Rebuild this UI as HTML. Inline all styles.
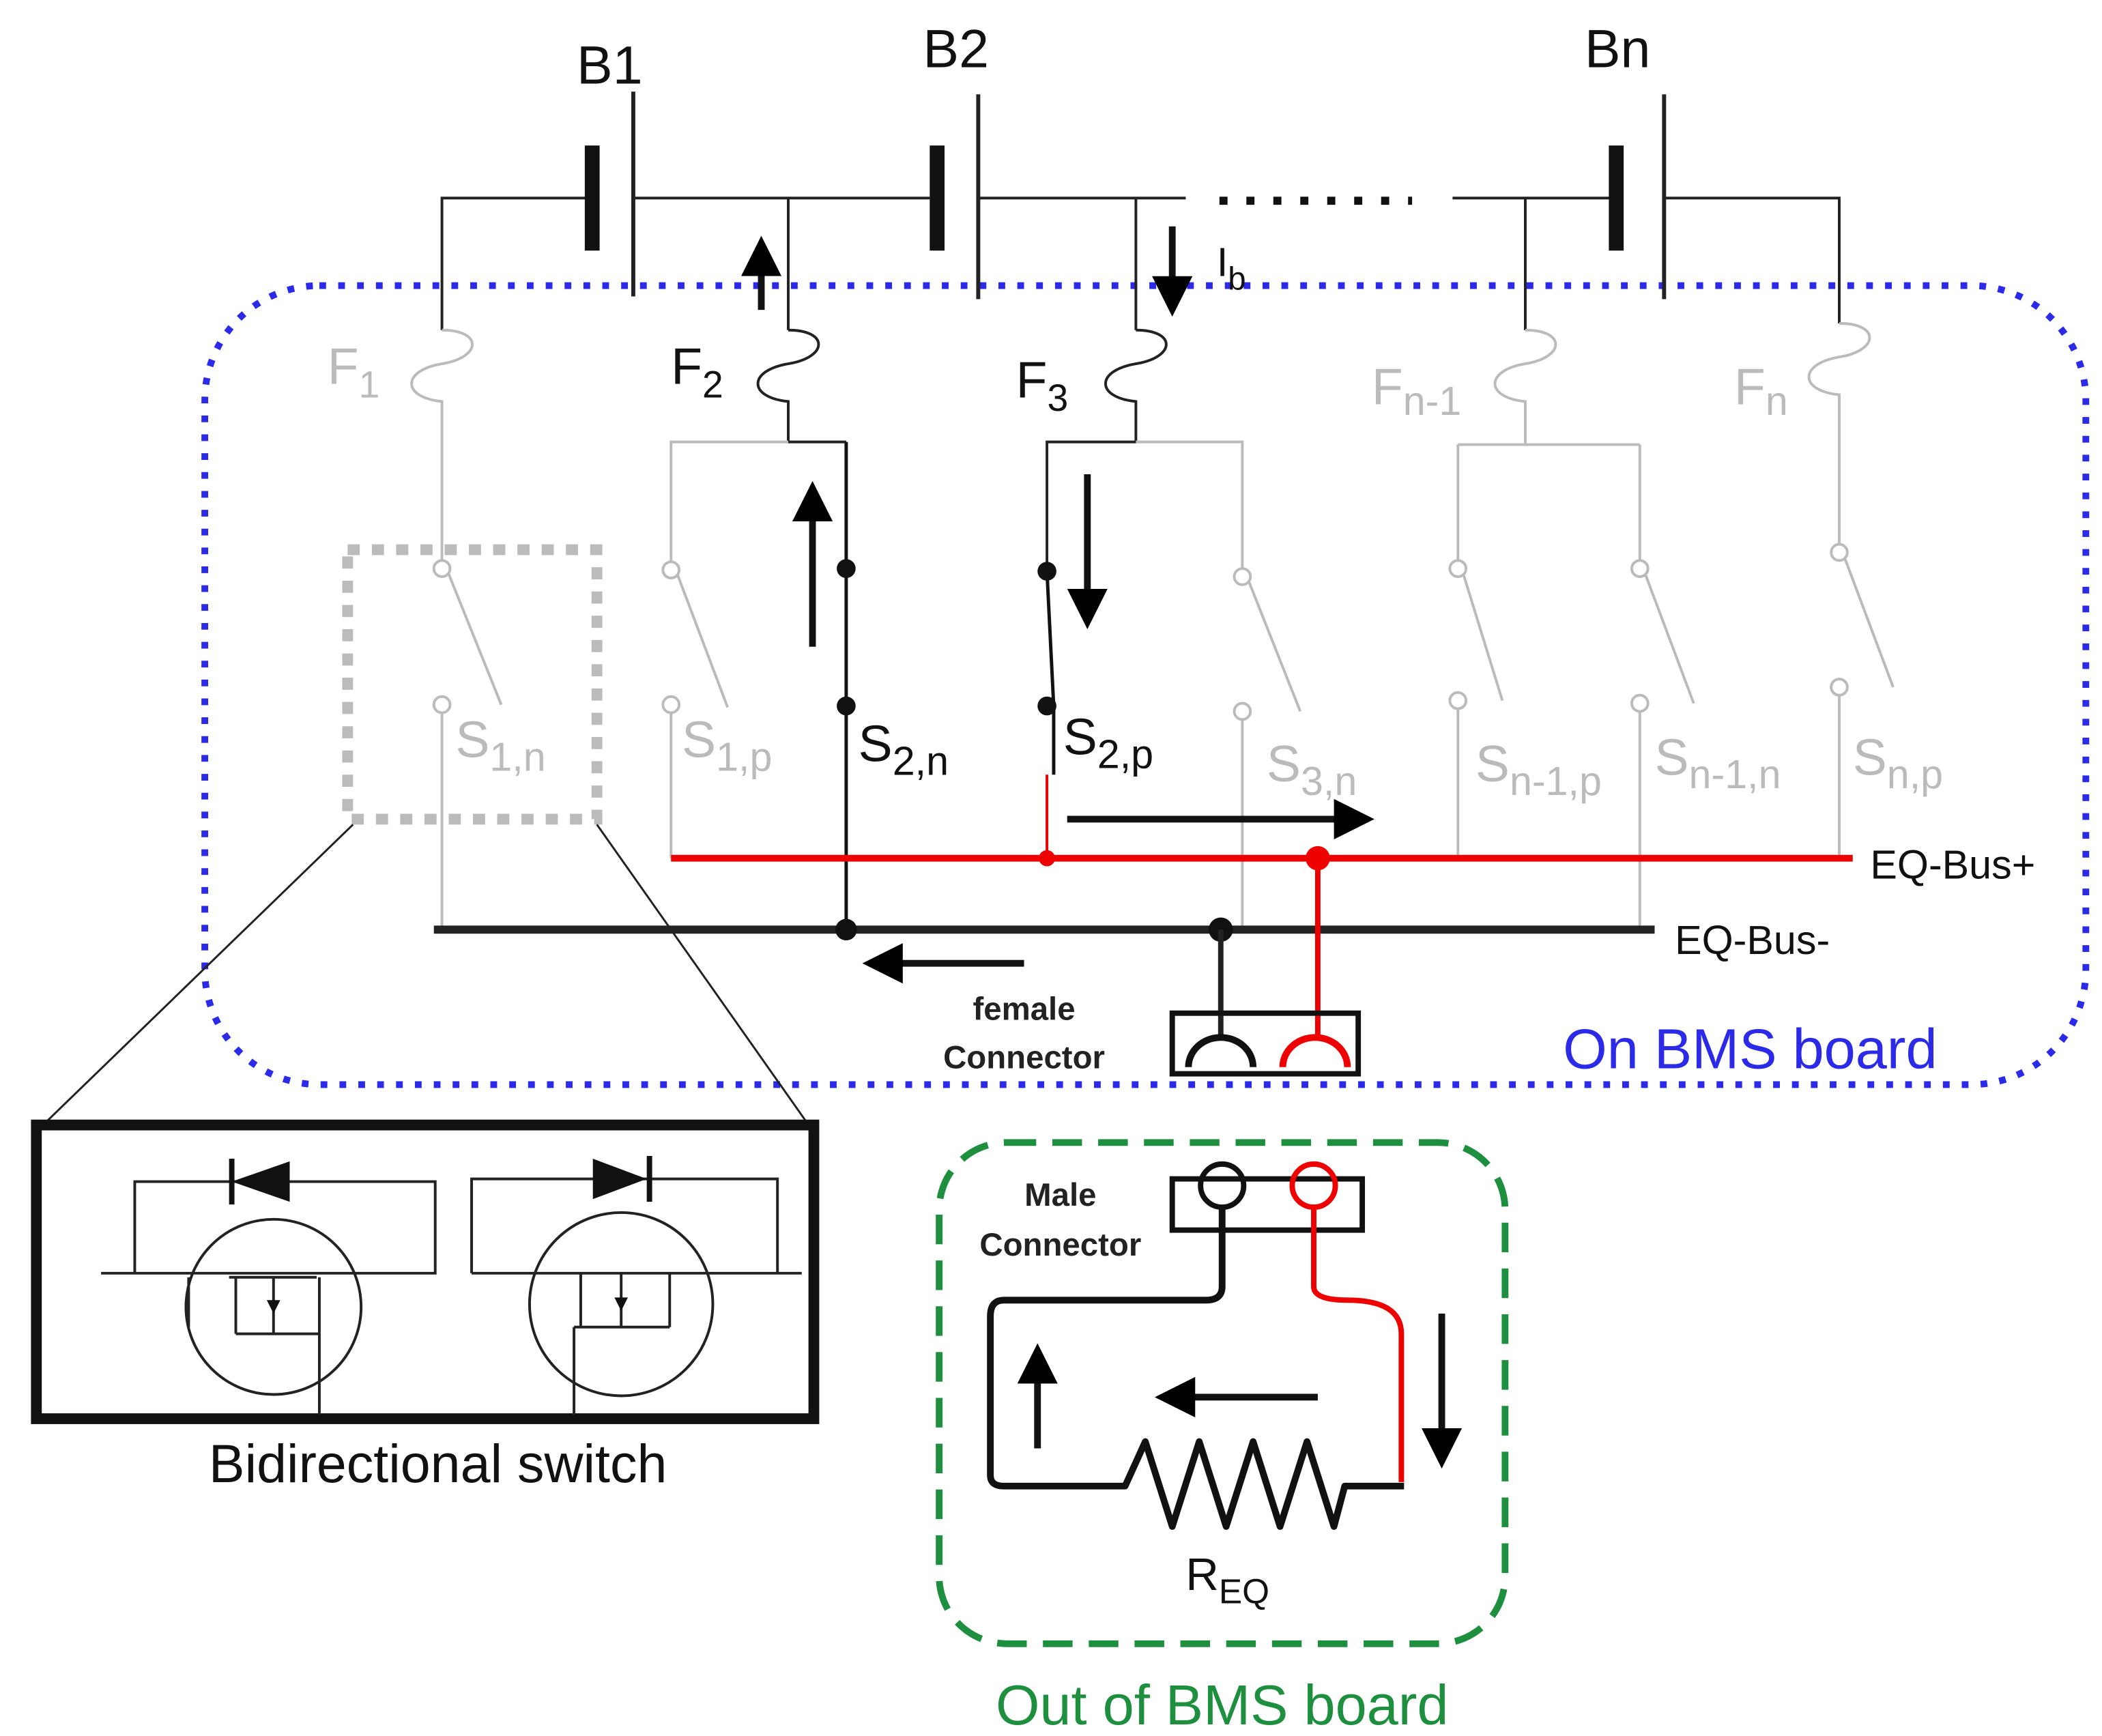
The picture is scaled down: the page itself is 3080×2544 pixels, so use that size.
<!DOCTYPE html>
<html><head><meta charset="utf-8"><style>html,body{margin:0;padding:0;background:#fff}svg{display:block}</style></head><body>
<svg width="3080" height="2544" viewBox="0 0 1560 1288.5" preserveAspectRatio="none" xmlns="http://www.w3.org/2000/svg" font-family="Liberation Sans, sans-serif">
<defs>
<marker id="ah" markerWidth="6" markerHeight="6" refX="5" refY="3" orient="auto" markerUnits="strokeWidth"><path d="M0,0 L6,3 L0,6 z" fill="#000"/></marker>
</defs>
<rect width="1560" height="1290" fill="#fff"/>
<rect x="152" y="212" width="1396" height="593" rx="85" fill="none" stroke="#2a2ae8" stroke-width="5" stroke-dasharray="5 9"/>
<g stroke="#222" stroke-width="2" fill="none">
<path d="M328,245 V147 H435 M470,147 H690 M726,147 H880 M1078,147 H1195 M1235,147 H1365 V240"/>
<path d="M585,147 V245 M843,147 V245 M1132,147 V245"/>
</g>
<g fill="#111">
<rect x="434" y="108" width="11" height="78"/><rect x="690" y="108" width="11" height="78"/><rect x="1194" y="108" width="11" height="78"/>
</g>
<g stroke="#222" stroke-width="3"><line x1="470" y1="68" x2="470" y2="220"/><line x1="726" y1="70" x2="726" y2="222"/><line x1="1235" y1="70" x2="1235" y2="222"/></g>
<line x1="905" y1="149" x2="1048" y2="149" stroke="#111" stroke-width="6" stroke-dasharray="6 14"/>
<g font-size="40" fill="#111"><text x="428" y="62">B1</text><text x="685" y="50">B2</text><text x="1176" y="50">Bn</text></g>
<g fill="none" stroke-width="2">
<path d="M328,245 c30,0 30,20 0,25 c-30,5 -30,25 0,28 V420" stroke="#bbb"/>
<path d="M585,245 c30,0 30,20 0,25 c-30,5 -30,25 0,28 V328 H628" stroke="#222"/>
<path d="M843,245 c30,0 30,20 0,25 c-30,5 -30,25 0,28 V328 H777 V424" stroke="#222"/>
<path d="M843,328 H922 V424" stroke="#bbb"/>
<path d="M585,328 H498 V420" stroke="#bbb"/>
<path d="M1132,245 c30,0 30,20 0,25 c-30,5 -30,25 0,28 V330 M1082,330 H1217 M1082,330 V418 M1217,330 V418" stroke="#bbb"/>
<path d="M1365,240 c30,0 30,20 0,25 c-30,5 -30,25 0,28 V405" stroke="#bbb"/>
</g>
<g stroke="#bbb" stroke-width="2" fill="#fff">
<line x1="333" y1="426" x2="372" y2="523"/><line x1="328" y1="528" x2="328" y2="690"/>
<line x1="503" y1="427" x2="540" y2="525"/><line x1="498" y1="528" x2="498" y2="637"/>
<line x1="927" y1="432" x2="965" y2="528"/><line x1="922" y1="533" x2="922" y2="690"/>
<line x1="1086" y1="426" x2="1115" y2="520"/><line x1="1082" y1="525" x2="1082" y2="637"/>
<line x1="1221" y1="426" x2="1257" y2="522"/><line x1="1217" y1="527" x2="1217" y2="690"/>
<line x1="1369" y1="414" x2="1405" y2="510"/><line x1="1365" y1="515" x2="1365" y2="637"/>
<circle cx="328" cy="422" r="6"/><circle cx="328" cy="523" r="6"/>
<circle cx="498" cy="423" r="6"/><circle cx="498" cy="523" r="6"/>
<circle cx="922" cy="428" r="6"/><circle cx="922" cy="528" r="6"/>
<circle cx="1082" cy="422" r="6"/><circle cx="1082" cy="520" r="6"/>
<circle cx="1217" cy="422" r="6"/><circle cx="1217" cy="522" r="6"/>
<circle cx="1365" cy="410" r="6"/><circle cx="1365" cy="510" r="6"/>
</g>
<g stroke="#111" stroke-width="2.5" fill="none">
<path d="M628,328 V422 L628,524 V690"/><path d="M777,424 L782,524 V575"/>
</g>
<line x1="777" y1="575" x2="777" y2="637" stroke="#e00" stroke-width="2"/>
<g fill="#111"><circle cx="628" cy="422" r="7"/><circle cx="628" cy="524" r="7"/><circle cx="777" cy="424" r="7"/><circle cx="777" cy="524" r="7"/></g>
<line x1="498" y1="637" x2="1375" y2="637" stroke="#e00" stroke-width="5"/>
<line x1="322" y1="690" x2="1228" y2="690" stroke="#222" stroke-width="6"/>
<circle cx="777" cy="637" r="6" fill="#e00"/><circle cx="978" cy="637" r="9" fill="#e00"/>
<circle cx="628" cy="690" r="8" fill="#111"/><circle cx="906" cy="690" r="9" fill="#111"/>
<path d="M906,690 V768" stroke="#222" stroke-width="4"/>
<path d="M978,637 V768" stroke="#e00" stroke-width="4"/>
<rect x="870" y="752" width="138" height="45" fill="none" stroke="#111" stroke-width="4"/>
<path d="M882,792 a24,22 0 0 1 48,0" fill="none" stroke="#111" stroke-width="5"/>
<path d="M952,792 a24,22 0 0 1 48,0" fill="none" stroke="#e00" stroke-width="5"/>
<g stroke="#111" stroke-width="5" fill="none" marker-end="url(#ah)">
<line x1="565" y1="230" x2="565" y2="180"/><line x1="870" y1="168" x2="870" y2="230"/>
<line x1="603" y1="480" x2="603" y2="362"/><line x1="807" y1="352" x2="807" y2="462"/>
<line x1="792" y1="608" x2="1015" y2="608"/><line x1="760" y1="715" x2="645" y2="715"/>
<line x1="1070" y1="975" x2="1070" y2="1085"/><line x1="978" y1="1037" x2="862" y2="1037"/><line x1="770" y1="1075" x2="770" y2="1002"/>
</g>
<g font-size="38" fill="#bbb">
<text x="243" y="285">F<tspan font-size="28" dy="10">1</tspan></text>
<text x="1018" y="300">F<tspan font-size="30" dy="8">n-1</tspan></text>
<text x="1287" y="300">F<tspan font-size="30" dy="8">n</tspan></text>
<text x="338" y="562">S<tspan font-size="30" dy="10">1,n</tspan></text>
<text x="506" y="562">S<tspan font-size="30" dy="10">1,p</tspan></text>
<text x="940" y="580">S<tspan font-size="30" dy="10">3,n</tspan></text>
<text x="1095" y="580">S<tspan font-size="30" dy="10">n-1,p</tspan></text>
<text x="1228" y="575">S<tspan font-size="30" dy="10">n-1,n</tspan></text>
<text x="1375" y="575">S<tspan font-size="30" dy="10">n,p</tspan></text>
</g>
<g font-size="38" fill="#111">
<text x="498" y="285">F<tspan font-size="28" dy="10">2</tspan></text>
<text x="754" y="295">F<tspan font-size="28" dy="10">3</tspan></text>
<text x="637" y="565">S<tspan font-size="30" dy="10">2,n</tspan></text>
<text x="789" y="560">S<tspan font-size="30" dy="10">2,p</tspan></text>
<text x="903" y="205" font-size="30">I<tspan font-size="24" dy="10">b</tspan></text>
</g>
<g font-size="30" fill="#111"><text x="1388" y="652">EQ-Bus+</text><text x="1243" y="708">EQ-Bus-</text></g>
<g font-size="24" font-weight="bold" fill="#222" text-anchor="middle"><text x="760" y="757">female</text><text x="760" y="793">Connector</text><text x="787" y="895">Male</text><text x="787" y="932">Connector</text></g>
<text x="1160" y="793" font-size="42" fill="#2a2ae8">On BMS board</text>
<rect x="258" y="408" width="185" height="200" fill="none" stroke="#bbb" stroke-width="8" stroke-dasharray="9 9"/>
<line x1="262" y1="612" x2="35" y2="832" stroke="#222" stroke-width="1.5"/><line x1="443" y1="612" x2="598" y2="832" stroke="#222" stroke-width="1.5"/>
<rect x="27" y="835" width="577" height="218" fill="none" stroke="#111" stroke-width="8"/>
<g stroke="#222" stroke-width="2" fill="none">
<path d="M75,945 H323 V877 H100 V945"/><path d="M350,945 H595 M350,945 V875 H577 V945"/>
<circle cx="203" cy="970" r="65"/><circle cx="461" cy="968" r="68"/>
<path d="M140,948 V985 M175,948 V990 M175,990 H237 V1050 M237,948 V990 M170,948 H235 M203,948 V990"/>
<path d="M431,945 V985 M426,985 H497 M426,985 V1050 M497,945 V985 M461,945 V985"/>
</g>
<g fill="#111"><path d="M172,877 L215,862 L215,892 z"/><rect x="170" y="860" width="4" height="34"/><path d="M440,860 L480,875 L440,890 z"/><rect x="480" y="858" width="4" height="34"/>
<path d="M198,965 L208,965 L203,975 z"/><path d="M456,963 L466,963 L461,973 z"/></g>
<text x="325" y="1100" font-size="40" fill="#111" text-anchor="middle">Bidirectional switch</text>
<rect x="697" y="848" width="420" height="372" rx="50" fill="none" stroke="#1e8f3e" stroke-width="5" stroke-dasharray="22 12"/>
<rect x="870" y="875" width="141" height="38" fill="none" stroke="#111" stroke-width="4"/>
<circle cx="907" cy="880" r="16" fill="none" stroke="#111" stroke-width="4"/>
<circle cx="975" cy="880" r="16" fill="none" stroke="#e00" stroke-width="4"/>
<path d="M907,896 V955 Q907,965 895,965 H745 Q735,965 735,977 V1095 Q735,1103 745,1103 H835 L850,1070 L870,1133 L890,1070 L910,1133 L930,1070 L950,1133 L970,1070 L990,1133 L998,1103 H1042" fill="none" stroke="#111" stroke-width="5" stroke-linejoin="round"/>
<path d="M975,896 V955 Q975,965 1000,965 Q1040,965 1040,990 V1100" fill="none" stroke="#e00" stroke-width="4"/>
<text x="880" y="1180" font-size="34" fill="#111">R<tspan font-size="26" dy="10">EQ</tspan></text>
<text x="907" y="1280" font-size="42" fill="#1e8f3e" text-anchor="middle">Out of BMS board</text>
</svg>
</body></html>
